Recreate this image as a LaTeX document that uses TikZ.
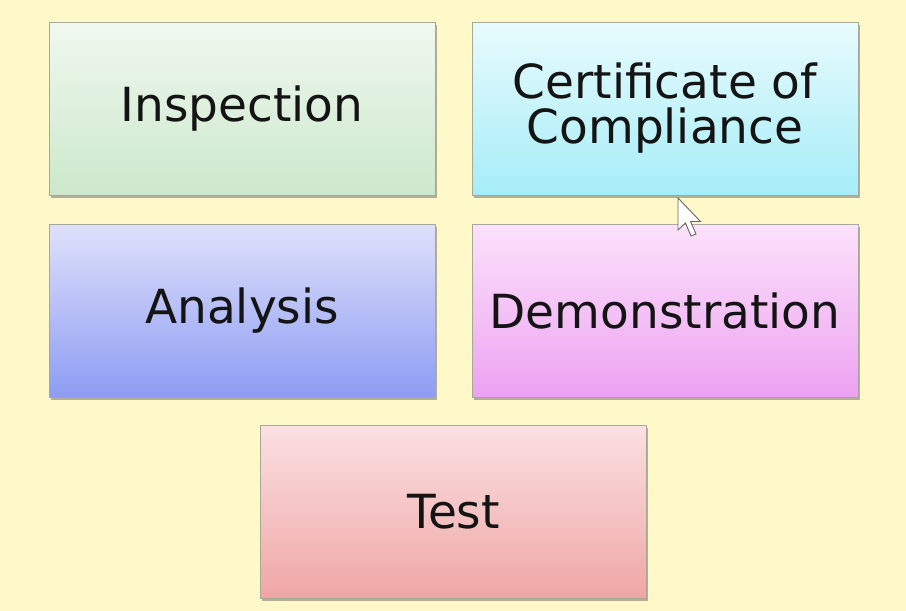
\documentclass[tikz,border=0pt]{standalone}
\usepackage{fontspec}
\setmainfont{DejaVu Sans}
\usetikzlibrary{shadows}
\definecolor{bg}{HTML}{FFF8C9}
\definecolor{edge}{HTML}{A8A89A}
\definecolor{inspT}{HTML}{F0F8F0}
\definecolor{inspB}{HTML}{CCE8CB}
\definecolor{certT}{HTML}{E8FBFD}
\definecolor{certB}{HTML}{A6EDF8}
\definecolor{anaT}{HTML}{DFE1FA}
\definecolor{anaB}{HTML}{8D9CF4}
\definecolor{demT}{HTML}{FBE2FB}
\definecolor{demB}{HTML}{EDA2F1}
\definecolor{testT}{HTML}{FBE0E2}
\definecolor{testB}{HTML}{EFA6A5}
\tikzset{
  box/.style={draw=edge, line width=1pt, minimum width=386pt, minimum height=173pt,
    inner sep=0pt, align=center, text=black!92,
    font=\fontsize{47}{45}\selectfont,
    drop shadow={shadow xshift=1.5pt, shadow yshift=-2.5pt, fill=black!55, opacity=0.55}},
  cursor/.style={fill=white, draw=black!60, line width=0.9pt, line join=miter},
}
\begin{document}
\begin{tikzpicture}[x=1pt,y=-1pt]
\fill[bg] (0,0) rectangle (906,611);
\useasboundingbox (0,0) rectangle (906,611);
\node[box, top color=inspT, bottom color=inspB] (insp) at (242,108.5) {Inspection};
\node[box, top color=certT, bottom color=certB] (cert) at (665,108.5) {Certificate of\\Compliance};
\node[box, top color=anaT, bottom color=anaB] (ana) at (242,310.5) {Analysis};
\node[box, top color=demT, bottom color=demB] (dem) at (665,310.5) {Demonstration};
\node[box, top color=testT, bottom color=testB] (test) at (453.5,512) {Test};
\draw[cursor] (678,198) -- (678,230) -- (685.5,223) -- (691,236) -- (696,234) -- (690.5,221.5) -- (700.5,221.5) -- cycle;
\end{tikzpicture}
\end{document}
